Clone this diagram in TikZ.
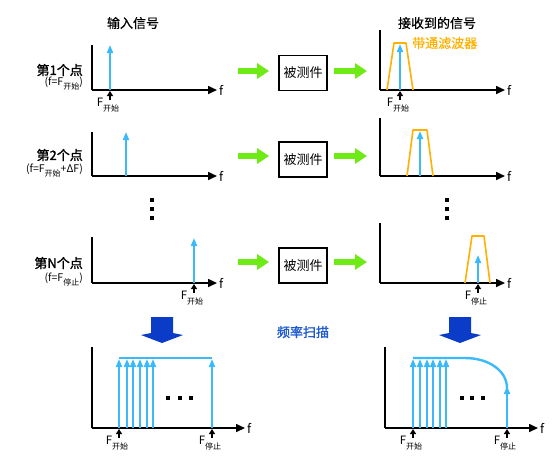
\documentclass[tikz,border=0pt]{standalone}
\usepackage{fontspec}
\setmainfont{Noto Sans CJK SC}
\newfontfamily\cjkb{Noto Sans CJK SC}[FakeBold=1.4]
\newfontfamily\cjkm{Noto Sans CJK SC}[FakeBold=0.6]
\usetikzlibrary{arrows.meta}
\definecolor{lblue}{RGB}{60,185,250}
\definecolor{dblue}{RGB}{10,60,200}
\definecolor{lgreen}{RGB}{110,235,20}
\definecolor{orng}{RGB}{255,176,0}
\definecolor{tblue}{RGB}{30,90,210}
\newcommand{\Fsub}[1]{F\raisebox{-0.7ex}{\fontsize{8}{8}\selectfont #1}}
\tikzset{
  axis/.style={line width=1.6pt, black},
  xaxis/.style={axis, -{Triangle[width=8pt,length=9pt]}},
  sig/.style={line width=1.8pt, lblue, -{Triangle[width=6pt,length=8pt]}},
  marker/.style={line width=1.4pt, -{Triangle[width=6pt,length=5pt]}},
  greenarrow/.style={line width=6pt, lgreen, -{Triangle[width=15pt,length=12pt]}},
  dut/.style={draw, line width=1.8pt, minimum width=48pt, minimum height=35pt, inner sep=0pt, font=\fontsize{13}{13}\selectfont},
  filt/.style={orng, line width=1.6pt, line join=round},
  ftxt/.style={font=\fontsize{12.5}{12.5}\selectfont, inner sep=0pt, anchor=west},
  flab/.style={font=\fontsize{11.5}{11.5}\selectfont, inner sep=0pt, anchor=north},
  rowlab/.style={font=\cjkb\fontsize{13}{13}\selectfont, inner sep=0pt, anchor=east},
  rowsub/.style={font=\fontsize{10.5}{10.5}\selectfont, inner sep=0pt, anchor=east},
  title/.style={font=\cjkm\fontsize{13}{13}\selectfont, inner sep=0pt},
  bigarr/.pic={\fill[dblue] (-11,0) -- (11,0) -- (11,16) -- (21,18) -- (0,26) -- (-21,18) -- (-11,16) -- cycle;}
}
\begin{document}
\begin{tikzpicture}[x=1pt,y=-1pt]
\useasboundingbox (0,0) rectangle (553,459);
% titles
\node[title] (t1) at (133,23) {输入信号};
\node[title] (t2) at (437,23) {接收到的信号};
% ---------- left plots ----------
% plot 1
\draw[axis] (92,45) -- (92,90);
\draw[xaxis] (92,90) -- (217,90);
\node[ftxt] (f1) at (219,90) {f};
\draw[sig] (110,90) -- (110,45);
\draw[marker] (110,100) -- (110,91);
\node[flab] (l1) at (108,98) {\Fsub{开始}};
\node[rowlab] (r1) at (83,70) {第1个点};
\node[rowsub] (s1) at (83,84) {(f=\Fsub{开始})};
% plot 2
\draw[axis] (92,132) -- (92,176);
\draw[xaxis] (92,176) -- (217,176);
\node[ftxt] (f2) at (219,176) {f};
\draw[sig] (126,176) -- (126,132);
\node[rowlab] (r2) at (83,155) {第2个点};
\node[rowsub] (s2) at (83,171) {(f=\Fsub{开始}+ΔF)};
% plot N
\draw[axis] (92,237) -- (92,283);
\draw[xaxis] (92,283) -- (217,283);
\node[ftxt] (f3) at (219,283) {f};
\draw[sig] (194,283) -- (194,238);
\draw[marker] (194,293) -- (194,284);
\node[flab] (l3) at (192,291) {\Fsub{开始}};
\node[rowlab] (r3) at (83,263) {第N个点};
\node[rowsub] (s3) at (83,280) {(f=\Fsub{停止})};
% vertical dots
\foreach \yy in {200,209,218} {
  \fill (150,\yy-2) rectangle (154,\yy+2);
  \fill (445,\yy-2) rectangle (449,\yy+2);
}
% ---------- DUT boxes and green arrows ----------
\node[dut] (b1) at (303,73) {被测件};
\node[dut] (b2) at (303,159.5) {被测件};
\node[dut] (b3) at (303,265.5) {被测件};
\coordinate (ga1) at (238,71);
\coordinate (ga2) at (238,156);
\coordinate (ga3) at (238,262);
\coordinate (gb1) at (367,71);
\coordinate (gb2) at (367,156);
\coordinate (gb3) at (367,262);
\draw[greenarrow, shorten >=9pt] (ga1) -- (ga1 -| b1.west);
\draw[greenarrow, shorten >=9pt] (ga2) -- (ga2 -| b2.west);
\draw[greenarrow, shorten >=9pt] (ga3) -- (ga3 -| b3.west);
\draw[greenarrow, shorten <=6pt] (gb1 -| b1.east) -- (gb1);
\draw[greenarrow, shorten <=6pt] (gb2 -| b2.east) -- (gb2);
\draw[greenarrow, shorten <=6pt] (gb3 -| b3.east) -- (gb3);
% ---------- right plots ----------
% R1
\draw[axis] (380,30) -- (380,90);
\draw[xaxis] (380,90) -- (505,90);
\node[ftxt] (rf1) at (507,90) {f};
\draw[filt] (387,90) -- (394,43) -- (406,43) -- (413,90);
\draw[sig] (400,90) -- (400,44);
\draw[marker] (400,100) -- (400,91);
\node[flab] (rl1) at (398,98) {\Fsub{开始}};
\node[title, orng, anchor=west] (bp) at (412,43) {带通滤波器};
% R2
\draw[axis] (380,118) -- (380,176);
\draw[xaxis] (380,176) -- (505,176);
\node[ftxt] (rf2) at (507,176) {f};
\draw[filt] (407,176) -- (413,130) -- (427,130) -- (433,176);
\draw[sig] (420,176) -- (420,131);
% RN
\draw[axis] (380,223) -- (380,283);
\draw[xaxis] (380,283) -- (505,283);
\node[ftxt] (rf3) at (507,283) {f};
\draw[filt] (465,283) -- (472,236) -- (484,236) -- (490,283);
\draw[sig] (478,283) -- (478,255);
\draw[marker] (478,293) -- (478,284);
\node[flab] (rl3) at (476,291) {\Fsub{停止}};
% ---------- sweep ----------
\pic at (162,317) {bigarr};
\pic at (460,317) {bigarr};
\node[title, tblue, font=\cjkb\fontsize{13}{13}\selectfont] (sw) at (303,332) {频率扫描};
% bottom left
\draw[axis] (92,347) -- (92,428);
\draw[xaxis] (92,428) -- (245,428);
\node[ftxt] (bf1) at (247,428) {f};
\draw[lblue, line width=2.4pt] (119,358) -- (212,358);
\foreach \xx in {119,127,133,140,147,153,212} {
  \draw[sig] (\xx,428) -- (\xx,359);
}
\foreach \xx in {168,180,191} { \fill (\xx-2,396) rectangle (\xx+2,400); }
\draw[marker] (119,438) -- (119,429);
\node[flab] (bl1) at (117,436) {\Fsub{开始}};
\draw[marker] (212,438) -- (212,429);
\node[flab] (bl2) at (210,436) {\Fsub{停止}};
% bottom right
\draw[axis] (385,347) -- (385,428);
\draw[xaxis] (385,428) -- (538,428);
\node[ftxt] (bf2) at (540,428) {f};
\draw[lblue, line width=2.4pt] (413,358) -- (465,358) .. controls (489,358) and (507,371) .. (507,388);
\foreach \xx in {413,420,427,433,440,446} {
  \draw[sig] (\xx,428) -- (\xx,359);
}
\draw[sig] (507,428) -- (507,386);
\foreach \xx in {462,472,483} { \fill (\xx-2,396) rectangle (\xx+2,400); }
\draw[marker] (413,438) -- (413,429);
\node[flab] (bl3) at (411,436) {\Fsub{开始}};
\draw[marker] (507,438) -- (507,429);
\node[flab] (bl4) at (505,436) {\Fsub{停止}};
\end{tikzpicture}
\end{document}
